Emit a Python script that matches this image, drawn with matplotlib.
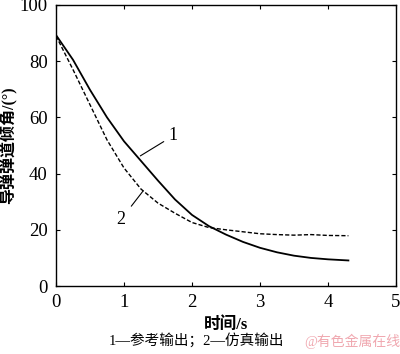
import matplotlib.pyplot as plt

# curve 1: reference output, curve 2: simulation output
t = [0, 0.25, 0.5, 0.75, 1.0, 1.25, 1.5, 1.75, 2.0, 2.25, 2.5, 2.75, 3.0, 3.25, 3.5, 3.75, 4.0, 4.3]
ref_angle = [89.3, 80.5, 69.8, 60.0, 51.5, 44.5, 37.5, 30.8, 25.3, 21.3, 18.3, 15.7, 13.6, 12.0, 10.8, 10.0, 9.5, 9.1]
sim_angle = [89.0, 77.0, 64.5, 52.0, 42.0, 34.5, 29.5, 25.9, 22.6, 20.8, 20.0, 19.3, 18.6, 18.3, 18.1, 18.3, 18.0, 17.9]

xticks = [0, 1, 2, 3, 4, 5]
yticks = [0, 20, 40, 60, 80, 100]

plt.rcParams['font.family'] = ['Liberation Serif', 'Noto Sans CJK SC']
plt.rcParams['axes.unicode_minus'] = False

fig = plt.figure(figsize=(4, 3.54), dpi=100)
ax = fig.add_axes([0.14, 0.192, 0.85, 0.794])

ax.plot(t, ref_angle, color='black', linewidth=1.3, solid_joinstyle='round')
ax.plot(t, sim_angle, color='black', linewidth=1.0, linestyle=(0, (3, 1.5)))

ax.set_xlim(0, 5)
ax.set_ylim(0, 100)
ax.set_xticks(xticks)
ax.set_yticks(yticks)
ax.tick_params(direction='in', top=True, right=True, length=3, labelsize=13.5, pad=6)
for s in ax.spines.values():
    s.set_linewidth(1.0)

# curve labels
ax.annotate('1', xy=(1.24, 46.3), xytext=(1.66, 53.5), fontsize=13,
            ha='left', va='center',
            arrowprops=dict(arrowstyle='-', color='black', lw=0.8, shrinkA=2, shrinkB=0))
ax.annotate('2', xy=(1.28, 33.8), xytext=(0.95, 23.5), fontsize=13,
            ha='center', va='center',
            arrowprops=dict(arrowstyle='-', color='black', lw=0.8, shrinkA=4, shrinkB=0))

ax.set_xlabel('时间/s', fontsize=12, fontweight='bold', labelpad=4)
ax.set_ylabel('导弹弹道倾角/(°)', fontsize=11.5, fontweight='bold')
ax.yaxis.set_label_coords(-0.115, 0.5)

fig.text(0.49, 0.04, '1—参考输出；2—仿真输出', fontsize=10.5, ha='center', va='center')
fig.text(0.88, 0.035, '@有色金属在线', fontsize=10, ha='center', va='center', color='#f0a8b0')

plt.savefig('out.png', dpi=100)
